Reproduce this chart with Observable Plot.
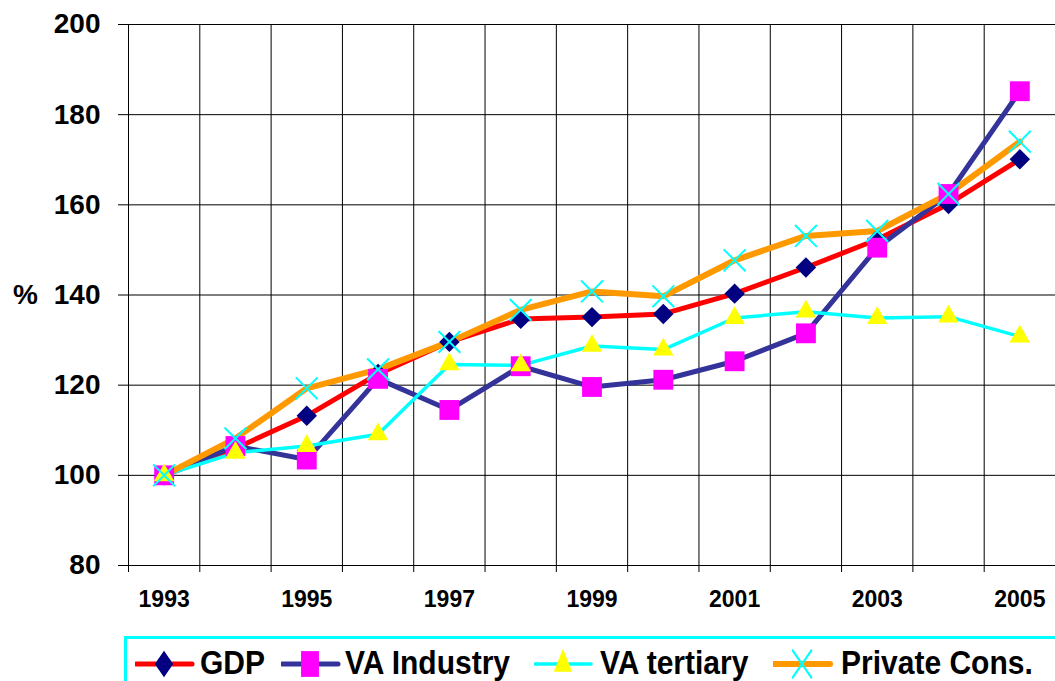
<!DOCTYPE html>
<html><head><meta charset="utf-8">
<script src="https://cdn.jsdelivr.net/npm/d3@7"></script>
<script src="https://cdn.jsdelivr.net/npm/@observablehq/plot@0.6"></script>
<style>
html,body{margin:0;padding:0;background:#fff;overflow:hidden;width:1055px;height:681px;}
#chart{position:absolute;left:0;top:0;}
#legendBox{position:absolute;left:124px;top:636px;width:960px;height:70px;border:3px solid #00FFFF;box-sizing:border-box;}
.lg{position:absolute;top:646px;font:bold 30px "Liberation Sans",Arial,sans-serif;color:#000;white-space:nowrap;line-height:32px;transform:scaleY(1.08);transform-origin:left top;}
.sw{position:absolute;top:647px;}
</style></head><body>
<div id="chart"></div>
<div id="legendBox"></div>
<div id="legend"></div>
<script>
const years = [1993,1994,1995,1996,1997,1998,1999,2000,2001,2002,2003,2004,2005];
const gdp         = [100,106.0,113.2,122.5,129.6,134.7,135.1,135.8,140.3,146.1,152.3,160.2,170.1];
const vaIndustry  = [100,106.5,103.5,121.4,114.5,124.2,119.6,121.2,125.3,131.5,150.5,162.4,185.2];
const vaTertiary  = [100,105.0,106.5,109.1,124.6,124.4,128.7,127.9,134.9,136.3,134.9,135.2,130.8];
const privateCons = [100,108.2,119.3,123.5,129.6,136.7,140.8,139.7,147.7,153.1,154.2,162.4,174.0];
const seriesNames = ["GDP","VA Industry","VA tertiary","Private Cons."];
const yTicks = [80,100,120,140,160,180,200];
const xLabelYears = [1993,1995,1997,1999,2001,2003,2005];

const seriesValues = [gdp, vaIndustry, vaTertiary, privateCons];
const styles = [
  {line:"#FF0000", lw:5,   symbol:"diamond2", fill:"#000080", r:9.2, stroke:"none", sw:0},
  {line:"#333399", lw:5,   symbol:"square",   fill:"#FF00FF", r:11.2, stroke:"none", sw:0},
  {line:"#00FFFF", lw:3.5, symbol:"triangle", fill:"#FFFF00", r:7.6, stroke:"none", sw:0},
  {line:"#FF9900", lw:6,   symbol:"times",    fill:"none",    r:10, stroke:"#00FFFF", sw:2}
];
const tables = seriesValues.map((vals, i) => years.map((y, j) => ({year: y, value: vals[j], series: seriesNames[i]})));
const bounds = years.map(y => y - 0.5).concat([years[years.length - 1] + 0.5]);

const lineMarks = tables.map((t, i) => Plot.line(t, {x: "year", y: "value", stroke: styles[i].line, strokeWidth: styles[i].lw, strokeLinejoin: "round"}));
const dotMarks = tables.map((t, i) => Plot.dot(t, {x: "year", y: "value", symbol: () => styles[i].symbol, r: styles[i].r, fill: styles[i].fill, stroke: styles[i].stroke, strokeWidth: styles[i].sw}));

const chart = Plot.plot({
  width: 1055, height: 620,
  marginLeft: 128, marginRight: 0, marginTop: 24, marginBottom: 55,
  style: {fontFamily: '"Liberation Sans", Arial, sans-serif', color: "#000", background: "#fff"},
  x: {domain: [bounds[0], bounds[bounds.length - 1]], axis: null},
  y: {domain: [80, 200], axis: null},
  marks: [
    Plot.ruleY(yTicks, {stroke: "#000", strokeWidth: 1}),
    Plot.ruleX(bounds, {stroke: "#000", strokeWidth: 1}),
    Plot.axisX(bounds, {tickSize: 7, tickFormat: () => "", stroke: "#000", strokeOpacity: 1, label: null}),
    Plot.axisX(xLabelYears, {tickSize: 0, tickPadding: 25, tickFormat: d => String(d), fontSize: 23, fontWeight: "bold", fill: "#000", label: null}),
    Plot.axisY(yTicks, {tickSize: 10, tickPadding: 18, fontSize: 28, fontWeight: "bold", fill: "#000", stroke: "#000", strokeOpacity: 1, label: null}),
    Plot.text(["%"], {frameAnchor: "left", dx: -103, textAnchor: "middle", text: d => d, fontSize: 28, fontWeight: "bold", fill: "#000"}),
    ...lineMarks,
    ...dotMarks
  ]
});
document.getElementById("chart").appendChild(chart);

// legend
const legend = document.getElementById("legend");
const swX = [135, 281, 534, 773];
const txX = [200, 345, 600, 841];
const symMap = {diamond2: d3.symbolDiamond2, square: d3.symbolSquare, triangle: d3.symbolTriangle, times: d3.symbolTimes};
styles.forEach((s, i) => {
  const svg = d3.create("svg").attr("class", "sw").attr("width", 60).attr("height", 34).style("left", swX[i] + "px");
  svg.append("line").attr("x1", 1).attr("x2", 57).attr("y1", 17).attr("y2", 17).attr("stroke", s.line).attr("stroke-width", s.lw).attr("stroke-linecap", "round");
  const size = Math.PI * s.r * s.r;
  svg.append("path").attr("d", d3.symbol(symMap[s.symbol], size)()).attr("transform", "translate(29,17) scale(0.9,1.3)")
    .attr("fill", s.fill).attr("stroke", s.stroke).attr("stroke-width", s.sw);
  legend.appendChild(svg.node());
  const t = document.createElement("div");
  t.className = "lg"; t.style.left = txX[i] + "px"; t.textContent = seriesNames[i];
  legend.appendChild(t);
});
</script>
</body></html>
